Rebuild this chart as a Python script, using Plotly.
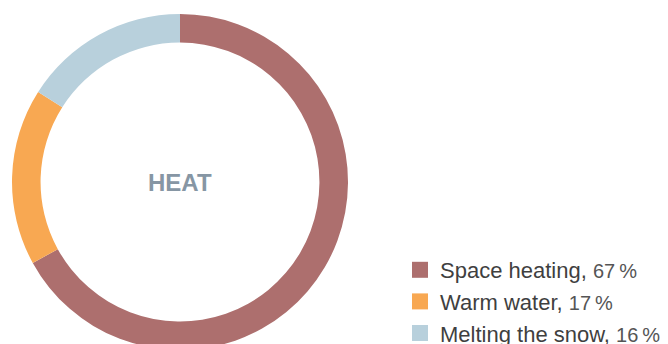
import plotly.graph_objects as go

# Heat demand breakdown
categories = ["Space heating", "Warm water", "Melting the snow"]
shares = [67, 17, 16]
colors = ["#AD6F6E", "#F8A852", "#B8D0DC"]
center_label = "HEAT"

W, H = 668, 368  # figure is taller than the window; the ring runs past the bottom edge

fig = go.Figure()

fig.add_trace(go.Pie(
    labels=categories,
    values=shares,
    marker=dict(colors=colors, line=dict(width=0)),
    hole=0.83,
    sort=False,
    direction="clockwise",
    rotation=0,
    textinfo="none",
    hoverinfo="label+percent",
    showlegend=False,
    domain=dict(x=[12 / W, 348 / W], y=[(H - 350) / H, (H - 14) / H]),
))

# Legend entries with square swatches
for name, val, col in zip(categories, shares, colors):
    fig.add_trace(go.Scatter(
        x=[None], y=[None], mode="markers",
        marker=dict(symbol="square", size=16, color=col),
        name=f"{name}, <span style='font-size:20px;color:#555555'>{val}\u2009%</span>",
        showlegend=True,
        hoverinfo="skip",
    ))

fig.add_annotation(
    text=f"<b>{center_label}</b>",
    x=180 / W, y=(H - 182) / H, xref="paper", yref="paper",
    showarrow=False, xanchor="center", yanchor="middle",
    font=dict(family="Liberation Sans, Arial, sans-serif", size=24, color="#8696A4"),
)

fig.update_layout(
    width=W, height=H,
    margin=dict(l=0, r=0, t=0, b=0),
    paper_bgcolor="white", plot_bgcolor="white",
    xaxis=dict(visible=False), yaxis=dict(visible=False),
    font=dict(family="Liberation Sans, Arial, sans-serif", color="#3F3F3F"),
    legend=dict(
        x=400 / W, y=(H - 249) / H, xanchor="left", yanchor="top",
        font=dict(size=22, color="#3F3F3F"),
        bgcolor="rgba(0,0,0,0)", itemsizing="trace",
        tracegroupgap=0,
    ),
)

fig.write_html(
    "out.html",
    post_script="document.documentElement.style.overflow='hidden';document.body.style.overflow='hidden';document.body.style.margin='0';",
)
